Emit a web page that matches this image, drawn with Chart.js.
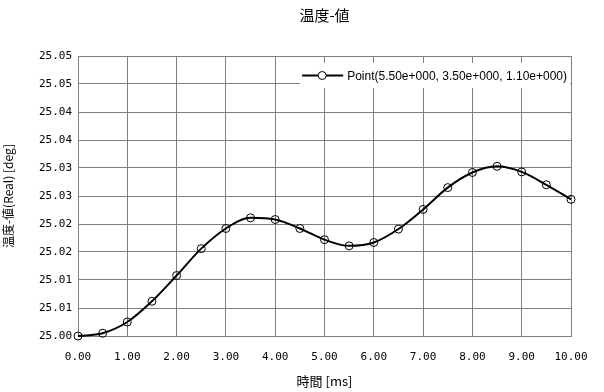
<!DOCTYPE html>
<html>
<head>
<meta charset="utf-8">
<script src="https://cdn.jsdelivr.net/npm/chart.js@4.4.1/dist/chart.umd.min.js"></script>
<style>
  html, body { margin: 0; padding: 0; background: #fff; }
</style>
</head>
<body>
<canvas id="chart" width="604" height="392"></canvas>
<script>
// data
const times = [0, 0.5, 1, 1.5, 2, 2.5, 3, 3.5, 4, 4.5, 5, 5.5, 6, 6.5, 7, 7.5, 8, 8.5, 9, 9.5, 10];
const temps = [25.0000, 25.0005, 25.0025, 25.0062, 25.0108, 25.0156, 25.0192, 25.0211, 25.0208, 25.0192,
               25.0172, 25.0161, 25.0167, 25.0191, 25.0226, 25.0265, 25.0292, 25.0303, 25.0293, 25.0270, 25.0244];
const xTicks = [0, 1, 2, 3, 4, 5, 6, 7, 8, 9, 10];
const yTicks = [25.000, 25.005, 25.010, 25.015, 25.020, 25.025, 25.030, 25.035, 25.040, 25.045, 25.050];
const yTickLabels = ['25.00', '25.01', '25.01', '25.02', '25.02', '25.03', '25.03', '25.04', '25.04', '25.05', '25.05'];
const seriesName = 'Point(5.50e+000, 3.50e+000, 1.10e+000)';

const gridGray = '#808080';
const tickFont = { family: '"DejaVu Sans Mono", monospace', size: 11 };
const jpFont = '"Noto Sans CJK JP", sans-serif';

// legend drawn as a white box inside the plot, top right
const boxLegend = {
    id: 'boxLegend',
    afterDraw(chart) {
        const { ctx, chartArea } = chart;
        const ds = chart.data.datasets[0];
        ctx.save();
        ctx.font = '12px "Liberation Sans", sans-serif';
        const tw = ctx.measureText(ds.label).width;
        const right = chartArea.right - 1;
        const top = chartArea.top + 7;
        const h = 25;
        const left = right - tw - 50;
        ctx.fillStyle = '#fff';
        ctx.fillRect(left, top, right - left, h);
        const cy = top + h / 2;
        ctx.strokeStyle = ds.borderColor;
        ctx.lineWidth = 2;
        ctx.beginPath();
        ctx.moveTo(left + 2, cy);
        ctx.lineTo(left + 43, cy);
        ctx.stroke();
        ctx.lineWidth = 1;
        ctx.fillStyle = '#fff';
        ctx.beginPath();
        ctx.arc(left + 22, cy, 4, 0, Math.PI * 2);
        ctx.fill();
        ctx.stroke();
        ctx.fillStyle = '#000';
        ctx.textBaseline = 'middle';
        ctx.fillText(ds.label, left + 47, cy + 1);
        ctx.restore();
    }
};

const chart = document.querySelector('#chart').getContext('2d');

new Chart(chart, {
    type: 'line',
    data: {
        datasets: [
            {
                label: seriesName,
                data: times.map((t, i) => ({ x: t, y: temps[i] })),
                borderColor: '#000',
                borderWidth: 2,
                cubicInterpolationMode: 'monotone',
                pointRadius: 4,
                pointBorderWidth: 1,
                pointBorderColor: '#000',
                pointBackgroundColor: 'rgba(0,0,0,0)',
                clip: false
            }
        ]
    },
    options: {
        responsive: false,
        animation: false,
        devicePixelRatio: 1,
        layout: { padding: { top: 0, right: 33, bottom: 0, left: 0 } },
        plugins: {
            legend: { display: false },
            tooltip: { enabled: false },
            title: {
                display: true,
                text: '温度-値',
                color: '#000',
                fullSize: false,
                font: { family: jpFont, size: 15, weight: 'normal', lineHeight: 1.2 },
                padding: { top: 6, bottom: 32 }
            }
        },
        scales: {
            x: {
                type: 'linear',
                min: 0,
                max: 10,
                afterBuildTicks: s => { s.ticks = xTicks.map(v => ({ value: v })); },
                afterFit: s => { s.height = 56; },
                grid: { color: gridGray, lineWidth: 1, drawTicks: false },
                border: { display: true, color: gridGray, width: 1 },
                ticks: {
                    color: '#000',
                    font: tickFont,
                    padding: 15,
                    maxRotation: 0,
                    autoSkip: false,
                    callback: v => v.toFixed(2)
                },
                title: {
                    display: true,
                    text: '時間 [ms]',
                    color: '#000',
                    font: { family: jpFont, size: 13 },
                    padding: { top: 3, bottom: 3 }
                }
            },
            y: {
                min: 25.0,
                max: 25.05,
                afterBuildTicks: s => { s.ticks = yTicks.map(v => ({ value: v })); },
                afterFit: s => { s.width = 78; },
                grid: { color: gridGray, lineWidth: 1, drawTicks: false },
                border: { display: true, color: gridGray, width: 1 },
                ticks: {
                    color: '#000',
                    font: tickFont,
                    padding: 6,
                    autoSkip: false,
                    callback: (v, i) => yTickLabels[i]
                },
                title: {
                    display: true,
                    text: '温度-値(Real) [deg]',
                    color: '#000',
                    font: { family: jpFont, size: 12 },
                    padding: { top: 1, bottom: 1 }
                }
            }
        }
    },
    plugins: [boxLegend]
});
</script>
</body>
</html>
